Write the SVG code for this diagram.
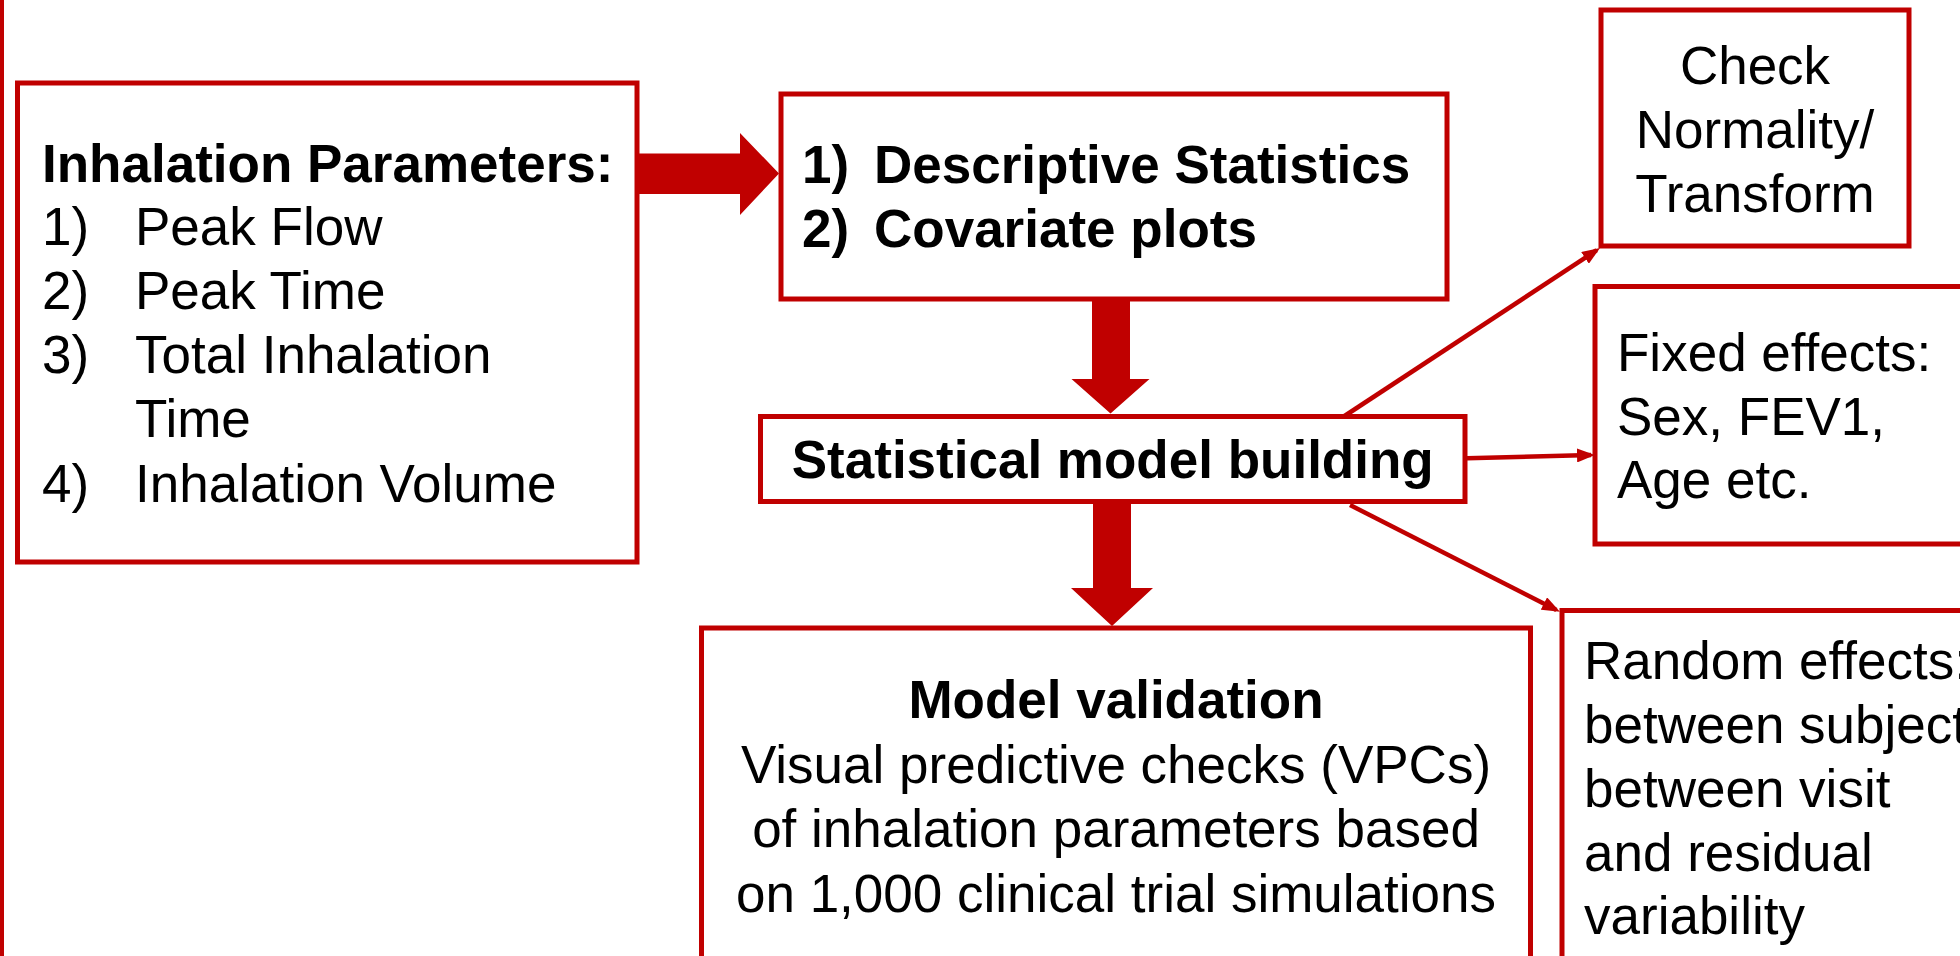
<svg xmlns="http://www.w3.org/2000/svg" width="1960" height="956" viewBox="0 0 1960 956">
<style>
  .box { fill: #FFFFFF; stroke: #C00000; stroke-width: 5; }
  .t { font-family: "Liberation Sans", Arial, sans-serif; font-size: 53px; fill: #000000; }
  .b { font-weight: bold; }
  .c { text-anchor: middle; }
  .thick { fill: #C00000; stroke: none; }
  .thin { fill: none; stroke: #C00000; stroke-width: 4.5; marker-end: url(#ah); }
</style>
<defs>
  <marker id="ah" markerUnits="userSpaceOnUse" markerWidth="18" markerHeight="14" refX="14" refY="7" orient="auto">
    <path d="M0,0 L18,7 L0,14 z" fill="#C00000"/>
  </marker>
</defs>
<rect x="0" y="0" width="1960" height="956" fill="#FFFFFF"/>
<rect x="0" y="0" width="4" height="956" fill="#C00000"/>

<g id="connectors">
  <polygon class="thick" points="637,153.5 740,153.5 740,133 779,173.5 740,215 740,194 637,194"/>
  <polygon class="thick" points="1092,299 1130,299 1130,379 1149.5,379 1110.5,413.5 1071.5,379 1092,379"/>
  <polygon class="thick" points="1093,502 1131,502 1131,588 1153,588 1112,626 1071,588 1093,588"/>
  <line class="thin" x1="1343" y1="417" x2="1596.7" y2="250.2"/>
  <line class="thin" x1="1467" y1="458.3" x2="1591" y2="455.1"/>
  <line class="thin" x1="1350" y1="505" x2="1556.4" y2="609.9"/>
</g>

<g id="node-inhalation">
  <rect class="box" x="17.5" y="83" width="619.5" height="479"/>
  <text class="t b" x="42" y="182">Inhalation Parameters:</text>
  <text class="t" x="42" y="245">1)</text><text class="t" x="135" y="245">Peak Flow</text>
  <text class="t" x="42" y="309">2)</text><text class="t" x="135" y="309">Peak Time</text>
  <text class="t" x="42" y="373">3)</text><text class="t" x="135" y="373">Total Inhalation</text>
  <text class="t" x="135" y="437">Time</text>
  <text class="t" x="42" y="502">4)</text><text class="t" x="135" y="502">Inhalation Volume</text>
</g>

<g id="node-descriptive">
  <rect class="box" x="781" y="94" width="666" height="205"/>
  <text class="t b" x="802" y="183">1)</text><text class="t b" x="874" y="183">Descriptive Statistics</text>
  <text class="t b" x="802" y="247">2)</text><text class="t b" x="874" y="247">Covariate plots</text>
</g>

<g id="node-model-building">
  <rect class="box" x="760.5" y="416.5" width="704.5" height="85"/>
  <text class="t b c" x="1112.75" y="478">Statistical model building</text>
</g>

<g id="node-validation">
  <rect class="box" x="701.5" y="628" width="829" height="400"/>
  <text class="t b c" x="1116" y="718">Model validation</text>
  <text class="t c" x="1116" y="783">Visual predictive checks (VPCs)</text>
  <text class="t c" x="1116" y="847">of inhalation parameters based</text>
  <text class="t c" x="1116" y="912">on 1,000 clinical trial simulations</text>
</g>

<g id="node-normality">
  <rect class="box" x="1601" y="10" width="308" height="236"/>
  <text class="t c" x="1755" y="84">Check</text>
  <text class="t c" x="1755" y="148">Normality/</text>
  <text class="t c" x="1755" y="212">Transform</text>
</g>

<g id="node-fixed">
  <rect class="box" x="1595" y="286.5" width="500" height="257.5"/>
  <text class="t" x="1617" y="371">Fixed effects:</text>
  <text class="t" x="1617" y="435">Sex, FEV1,</text>
  <text class="t" x="1617" y="498">Age etc.</text>
</g>

<g id="node-random">
  <rect class="box" x="1562" y="610.5" width="500" height="500"/>
  <text class="t" x="1584" y="679">Random effects:</text>
  <text class="t" x="1584" y="743">between subjects</text>
  <text class="t" x="1584" y="807">between visit</text>
  <text class="t" x="1584" y="871">and residual</text>
  <text class="t" x="1584" y="934">variability</text>
</g>
</svg>
